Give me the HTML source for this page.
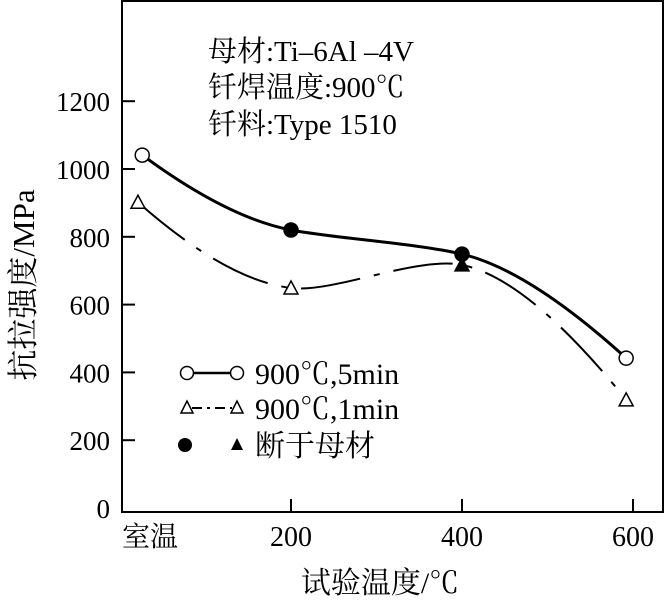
<!DOCTYPE html>
<html><head><meta charset="utf-8"><style>
body{margin:0;background:#fff;}
svg{display:block;}
text{font-family:"Liberation Serif","Noto Serif CJK SC","Noto Sans CJK SC",serif;fill:#000;}
</style></head><body>
<svg id="chart" width="667" height="602" viewBox="0 0 667 602" xmlns="http://www.w3.org/2000/svg">
<rect x="122" y="1" width="541" height="511" fill="none" stroke="#000" stroke-width="2"/>
<g id="axes"></g>
<g id="series"></g>
<g font-size="29">
<text x="208" y="61">母材:Ti–6Al –4V</text>
<text x="208" y="97">钎焊温度:900℃</text>
<text x="208" y="134">钎料:Type 1510</text>
</g>
<g font-size="30">
<line x1="187" y1="373" x2="237" y2="373" stroke="#000" stroke-width="2.5"/>
<circle cx="187" cy="373" r="6.5" fill="#fff" stroke="#000" stroke-width="1.5"/>
<circle cx="237" cy="373" r="6.5" fill="#fff" stroke="#000" stroke-width="1.5"/>
<text x="255" y="384">900℃,5min</text>
<line x1="192" y1="408" x2="232" y2="408" stroke="#000" stroke-width="2" stroke-dasharray="10,5,3,5"/>
<polygon points="187,401 181,413 193,413" fill="#fff" stroke="#000" stroke-width="1.5"/>
<polygon points="237,401 231,413 243,413" fill="#fff" stroke="#000" stroke-width="1.5"/>
<text x="255" y="419">900℃,1min</text>
<circle cx="185" cy="445" r="7" fill="#000"/>
<polygon points="237,438 231,450 243,450" fill="#000"/>
<text x="255" y="456">断于母材</text>
</g>
<text x="380" y="593" font-size="30" text-anchor="middle">试验温度/℃</text>
<text transform="translate(34,285) rotate(-90)" font-size="31" text-anchor="middle">抗拉强度/MPa</text>
</svg>
<script>
const yTicks=[0,200,400,600,800,1000,1200];
const xTicks=[200,400,600];
const xCatLabel="室温";
const temps5=[26,200,400,592];
const vals5=[1041,820,749,442];
const filled5=[false,true,true,false];
const temps1=[21,200,400,592];
const vals1=[902,649,717,319];
const filled1=[false,false,true,false];

const NS="http://www.w3.org/2000/svg";
const X=t=>291+(t-200)*0.855;
const Y=v=>508-v*0.339;
const axes=document.getElementById('axes');
const ser=document.getElementById('series');
function mk(tag,attrs,parent){const e=document.createElementNS(NS,tag);for(const k in attrs)e.setAttribute(k,attrs[k]);parent.appendChild(e);return e;}
yTicks.forEach(v=>{
  if(v>0){const l=mk('line',{x1:122,x2:135,y1:Y(v),y2:Y(v),stroke:'#000','stroke-width':2},axes);
  
  }
  const t=mk('text',{x:110,y:Y(v)+10,'font-size':27,'text-anchor':'end'},axes);
  
  
  t.textContent=v;
});
xTicks.forEach(v=>{
  const l=mk('line',{x1:X(v),x2:X(v),y1:512,y2:499,stroke:'#000','stroke-width':2},axes);
  
  
  const t=mk('text',{x:X(v),y:546,'font-size':28,'text-anchor':'middle'},axes);
  
  
  t.textContent=v;
});
const ct=mk('text',{x:150,y:546,'font-size':28,'text-anchor':'middle'},axes);


ct.textContent=xCatLabel;

function spline(pts){
  const n=pts.length,m=[];
  for(let i=1;i<n-1;i++)m[i]=[(pts[i+1][0]-pts[i-1][0])/2*0.8,(pts[i+1][1]-pts[i-1][1])/2*0.5];
  m[0]=[2*(pts[1][0]-pts[0][0])-m[1][0],2*(pts[1][1]-pts[0][1])-m[1][1]];
  m[n-1]=[2*(pts[n-1][0]-pts[n-2][0])-m[n-2][0],2*(pts[n-1][1]-pts[n-2][1])-m[n-2][1]];
  let d=`M${pts[0][0]},${pts[0][1]}`;
  for(let i=0;i<n-1;i++){
    const a=pts[i],b=pts[i+1];
    d+=` C${a[0]+m[i][0]/3},${a[1]+m[i][1]/3} ${b[0]-m[i+1][0]/3},${b[1]-m[i+1][1]/3} ${b[0]},${b[1]}`;
  }
  return d;
}
function drawSeries(temps,vals,filled,kind,name){
  const pts=temps.map((t,i)=>[X(t),Y(vals[i])]);
  const p=mk('path',{d:spline(pts),fill:'none',stroke:'#000','stroke-width':kind==='c'?3:2,'stroke-dasharray':kind==='c'?'none':'60,14,6,14'},ser);
  
  
  pts.forEach((q,i)=>{
    let m;
    if(kind==='c') m=mk('circle',{cx:q[0],cy:q[1],r:7,fill:filled[i]?'#000':'#fff',stroke:'#000','stroke-width':1.5},ser);
    else m=mk('polygon',{points:`${q[0]},${q[1]-7} ${q[0]-7},${q[1]+6} ${q[0]+7},${q[1]+6}`,fill:filled[i]?'#000':'#fff',stroke:'#000','stroke-width':1.5},ser);
    
    
  });
}
drawSeries(temps1,vals1,filled1,'t','series-1min');
drawSeries(temps5,vals5,filled5,'c','series-5min');
</script>
</body></html>
